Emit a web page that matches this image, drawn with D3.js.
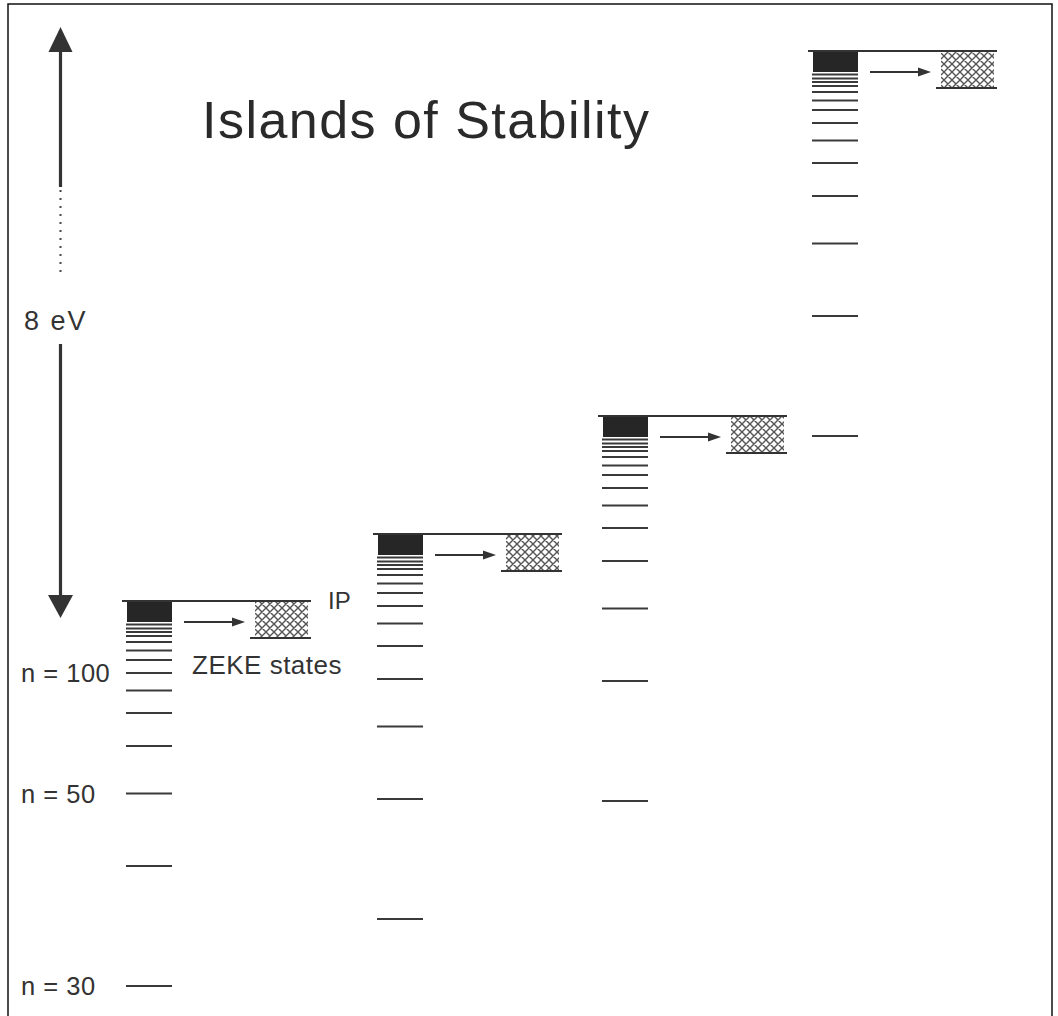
<!DOCTYPE html>
<html>
<head>
<meta charset="utf-8">
<script src="https://cdn.jsdelivr.net/npm/d3@7"></script>
<style>
  body { margin: 0; background: #fff; }
  text { font-family: "Liberation Sans", Arial, Helvetica, sans-serif; fill: #333; }
</style>
</head>
<body>
<div id="chart"></div>
<script>
'use strict';

// islands (ionisation potentials, arbitrary energy units)
const islands = ['A', 'B', 'C', 'D'];
const ipEnergy = [40.9, 47.6, 59.4, 95.9];

// Rydberg ladder: depth of each level below the IP
const ladderDepth = [2.35, 2.75, 3.1, 3.5, 4.1, 4.95, 5.9, 7.2, 8.95, 11.2, 14.5, 19.25, 26.5, 38.5];
const blockDepth = 2.1;   // unresolved dense states (black)
const zekeDepth = 3.7;    // ZEKE band (hatched)

// n labels on the first island
const nValues = [100, 50, 30];
const nDepths = [7.2, 19.25, 38.5];

// energy arrow
const arrowTop = 98.3, arrowBottom = 39.2;
const arrowLabel = '8 eV';

const width = 1058, height = 1016;

const svg = d3.select('#chart').append('svg')
    .attr('width', width)
    .attr('height', height);

const y = d3.scaleLinear().domain([0, 100]).range([1010, 10]);
const xIsland = d3.scaleOrdinal().domain(islands).range([122, 373, 598, 808]);

// hatch pattern for ZEKE band
const defs = svg.append('defs');
const pat = defs.append('pattern')
    .attr('id', 'hatch')
    .attr('patternUnits', 'userSpaceOnUse')
    .attr('width', 8).attr('height', 8);
pat.append('path')
    .attr('d', 'M-2,2 L2,-2 M0,8 L8,0 M6,10 L10,6 M-2,6 L2,10 M0,0 L8,8 M6,-2 L10,2')
    .attr('stroke', '#555')
    .attr('stroke-width', 1.4);

// frame
svg.append('rect')
    .attr('x', 8).attr('y', 4)
    .attr('width', 1044).attr('height', 1030)
    .attr('fill', 'none')
    .attr('stroke', '#111')
    .attr('stroke-width', 1.5);

// title
svg.append('text')
    .attr('x', 202).attr('y', 138)
    .attr('font-size', 52)
    .attr('fill', '#2a2a2a')
    .style('fill', '#2a2a2a')
    .attr('textLength', 447)
    .attr('lengthAdjust', 'spacing')
    .text('Islands of Stability');

const data = islands.map((k, i) => ({key: k, ip: ipEnergy[i]}));

const g = svg.selectAll('g.island')
    .data(data)
    .enter()
    .append('g')
    .attr('class', 'island')
    .attr('transform', d => `translate(${xIsland(d.key)},0)`);

// ZEKE band
g.append('rect')
    .attr('x', 133).attr('width', 53)
    .attr('y', d => y(d.ip))
    .attr('height', d => y(d.ip - zekeDepth) - y(d.ip))
    .attr('fill', 'url(#hatch)');

// black block
g.append('rect')
    .attr('x', 5).attr('width', 45)
    .attr('y', d => y(d.ip))
    .attr('height', d => y(d.ip - blockDepth) - y(d.ip))
    .attr('fill', '#262626');

// ladder lines
g.selectAll('line.level')
    .data(d => ladderDepth.map(dep => d.ip - dep))
    .enter()
    .append('line')
    .attr('class', 'level')
    .attr('x1', 4).attr('x2', 50)
    .attr('y1', e => y(e)).attr('y2', e => y(e))
    .attr('stroke', '#3a3a3a')
    .attr('stroke-width', 2);

// IP line
g.append('line')
    .attr('x1', 0).attr('x2', 189)
    .attr('y1', d => y(d.ip)).attr('y2', d => y(d.ip))
    .attr('stroke', '#333')
    .attr('stroke-width', 2);

// ZEKE bottom line
g.append('line')
    .attr('x1', 128).attr('x2', 189)
    .attr('y1', d => y(d.ip - zekeDepth)).attr('y2', d => y(d.ip - zekeDepth))
    .attr('stroke', '#333')
    .attr('stroke-width', 2);

// small arrows
g.append('line')
    .attr('x1', 62).attr('x2', 112)
    .attr('y1', d => y(d.ip - blockDepth)).attr('y2', d => y(d.ip - blockDepth))
    .attr('stroke', '#333')
    .attr('stroke-width', 2);
g.append('path')
    .attr('d', d => {
        const yy = y(d.ip - blockDepth);
        return `M110,${yy - 4.5} L123,${yy} L110,${yy + 4.5} Z`;
    })
    .attr('fill', '#333');

// labels on first island
const x0 = xIsland(islands[0]);
svg.append('text')
    .attr('x', x0 + 206).attr('y', y(ipEnergy[0]))
    .attr('dy', '0.35em')
    .attr('font-size', 24)
    .text('IP');
svg.append('text')
    .attr('x', x0 + 70).attr('y', y(ipEnergy[0] - 7.2))
    .attr('dy', '0.05em')
    .attr('font-size', 26)
    .style('letter-spacing', '0.5px')
    .text('ZEKE states');

svg.selectAll('text.nlab')
    .data(nValues)
    .enter()
    .append('text')
    .attr('class', 'nlab')
    .attr('x', 21)
    .attr('y', (n, i) => y(ipEnergy[0] - nDepths[i]))
    .attr('dy', '0.36em')
    .attr('font-size', 25.5)
    .style('letter-spacing', '0.5px')
    .text(n => 'n = ' + n);

// big energy arrow
const ax = 60.5;
const breakTop = 82.3, dotBottom = 73.2, labelY = 69.0, breakBottom = 66.6;
svg.append('line')
    .attr('x1', ax).attr('x2', ax)
    .attr('y1', y(arrowTop) + 24).attr('y2', y(breakTop))
    .attr('stroke', '#333').attr('stroke-width', 3.2);
svg.append('line')
    .attr('x1', ax).attr('x2', ax)
    .attr('y1', y(breakTop) + 3).attr('y2', y(dotBottom))
    .attr('stroke', '#444').attr('stroke-width', 2)
    .attr('stroke-dasharray', '2,6');
svg.append('line')
    .attr('x1', ax).attr('x2', ax)
    .attr('y1', y(breakBottom)).attr('y2', y(arrowBottom) - 22)
    .attr('stroke', '#333').attr('stroke-width', 3.2);
svg.append('path')
    .attr('d', `M${ax},${y(arrowTop)} L${ax + 12},${y(arrowTop) + 25} L${ax - 12},${y(arrowTop) + 25} Z`)
    .attr('fill', '#333');
svg.append('path')
    .attr('d', `M${ax},${y(arrowBottom)} L${ax + 12.5},${y(arrowBottom) - 23} L${ax - 12.5},${y(arrowBottom) - 23} Z`)
    .attr('fill', '#333');
svg.append('text')
    .attr('x', 24).attr('y', y(labelY))
    .attr('dy', '0.36em')
    .attr('font-size', 27)
    .style('letter-spacing', '2px')
    .text(arrowLabel);
</script>
</body>
</html>
